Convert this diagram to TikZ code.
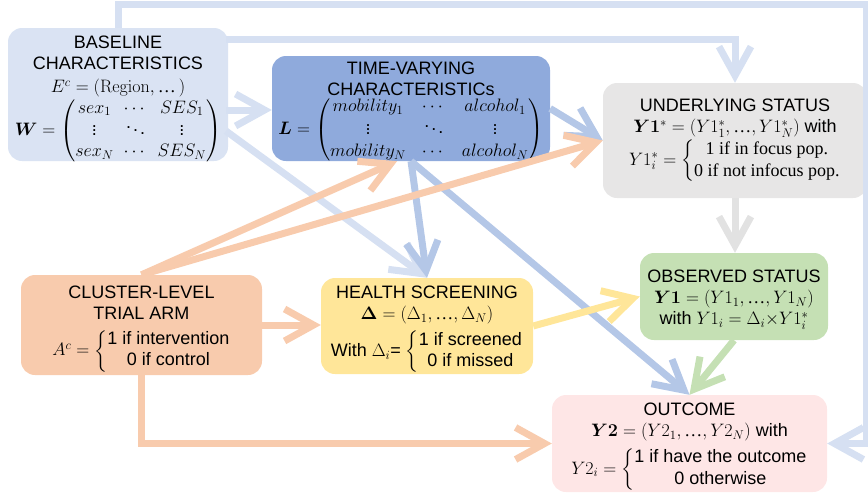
\RequirePackage{fix-cm}
\documentclass[tikz,border=0pt]{standalone}
\usepackage{amsmath}
\usepackage{bm}
\usepackage[no-math]{fontspec}
\setmainfont{Liberation Sans}
\newfontfamily\seriffont{Liberation Serif}
\usetikzlibrary{arrows.meta,calc}
\newcommand{\boxfont}{\fontsize{18}{21}\selectfont}
\newcommand{\cdts}{\text{\seriffont\textellipsis}}
\definecolor{cB}{HTML}{DAE3F3}
\definecolor{cBa}{HTML}{D6E0F2}
\definecolor{cL}{HTML}{8FAADC}
\definecolor{cLa}{HTML}{B4C7E7}
\definecolor{cU}{HTML}{E7E6E6}
\definecolor{cUa}{HTML}{E2E2E2}
\definecolor{cA}{HTML}{F8CBAD}
\definecolor{cH}{HTML}{FFE699}
\definecolor{cO}{HTML}{C5E0B4}
\definecolor{cY}{HTML}{FEE6E6}
\tikzset{
  box/.style={rounded corners=14pt, inner sep=0pt, draw=none},
  txt/.style={inner sep=0pt, align=center, font=\boxfont},
  arr/.style={line width=7pt, -{Straight Barb[length=29pt,width=32pt]}}
}
\begin{document}
\begin{tikzpicture}[x=1pt,y=-1pt]
\useasboundingbox (0,0) rectangle (868,496);
% boxes
\node[box, fill=cB, minimum width=220pt, minimum height=133pt] (B) at (118,94.5) {};
\node[box, fill=cL, minimum width=278pt, minimum height=105pt] (L) at (411,108.5) {};
\node[box, fill=cU, minimum width=264pt, minimum height=115pt] (U) at (735,140.5) {};
\node[box, fill=cA, minimum width=241pt, minimum height=100pt] (A) at (141.5,325) {};
\node[box, fill=cH, minimum width=212pt, minimum height=96pt] (H) at (427,326) {};
\node[box, fill=cO, minimum width=188pt, minimum height=87pt] (O) at (734,296.5) {};
\node[box, fill=cY, minimum width=275pt, minimum height=97pt] (Y) at (689.5,443.5) {};
% texts
\node[txt] (Bt) at (118,99.5)
 {BASELINE\\CHARACTERISTICS\\[2pt]
  $E^c = (\mathrm{Region}, \cdts\,)$\\
  $\bm{W} = \begin{pmatrix} sex_1 & \cdots & SES_1\\ \vdots & \ddots & \vdots\\ sex_N & \cdots & SES_N \end{pmatrix}$};
\node[txt] (Lt) at (411,112.5)
 {TIME-VARYING\\CHARACTERISTICs\\
  $\setlength{\arraycolsep}{8pt}\renewcommand{\arraystretch}{1.05}\bm{L} = \begin{pmatrix} mobility_1 & \cdots & alcohol_1\\ \vdots & \ddots & \vdots\\ mobility_N & \cdots & alcohol_N \end{pmatrix}$};
\node[txt] (Ut) at (735,141)
 {UNDERLYING STATUS\\
  $\bm{Y1}^{*} = (Y1_1^{*}, \cdts, Y1_N^{*})$ with\\
  $\renewcommand{\arraystretch}{1.05}Y1_i^{*} = \left\{\begin{array}{@{}c@{}}\text{\seriffont 1 if in focus pop.}\\ \text{\seriffont 0 if not infocus pop.}\end{array}\right.$};
\node[txt] (At) at (141.5,329)
 {CLUSTER-LEVEL\\TRIAL ARM\\[10pt]
  $A^c = \left\{\begin{array}{@{}c@{}}\text{1 if intervention}\\ \text{0 if control}\end{array}\right.$};
\node[txt] (Ht) at (427,329.5)
 {HEALTH SCREENING\\
  $\bm{\Delta} = (\Delta_1, \cdts, \Delta_N)$\\[6pt]
  With $\Delta_i$= $\left\{\begin{array}{@{}c@{}}\text{1 if screened}\\ \text{0 if missed}\end{array}\right.$};
\node[txt] (Ot) at (734,299.5)
 {OBSERVED STATUS\\
  $\bm{Y1} = (Y1_1, \cdts, Y1_N)$\\
  with $Y1_i = \Delta_i{\times}Y1_i^{*}$};
\node[txt] (Yt) at (689.5,447.5)
 {OUTCOME\\
  $\bm{Y2} = (Y2_1, \cdts, Y2_N)$ with\\[5pt]
  $\renewcommand{\arraystretch}{1.05}Y2_i = \left\{\begin{array}{@{}c@{}}\text{1 if have the outcome}\\ \text{0 otherwise}\end{array}\right.$};
% connector routing points
\coordinate (tl) at (118,4);
\coordinate (tr) at (866,4);
\coordinate (b2) at (226,39);
\coordinate (b3) at (226,110);
\coordinate (b4) at (226,131);
% baseline arrows
\draw[arr, draw=cBa] (B.north) -- (tl) -- (tr) |- (Y.east);
\draw[arr, draw=cBa] (b2) -| (U.north);
\draw[arr, draw=cBa] (b3) -- (b3 -| L.west);
\draw[arr, draw=cBa] (b4) -- (H.north);
% time-varying arrows
\draw[arr, draw=cLa] (L.east) -- (U.west);
\draw[arr, draw=cLa] (L.south) -- (H.north);
\draw[arr, draw=cLa] (L.south) -- (Y.north);
% trial arm arrows
\draw[arr, draw=cA] (A.north) -- ($(L.south)+(-14,0)$);
\draw[arr, draw=cA] (A.north) -- (U.west);
\draw[arr, draw=cA] (A.east) -- (H.west |- A.east);
\draw[arr, draw=cA] (A.south) |- (Y.west);
% others
\draw[arr, draw=cH] (H.east) -- (O.west);
\draw[arr, draw=cUa] (U.south) -- (U.south |- O.north);
\draw[arr, draw=cO] (O.south) -- (Y.north);
\end{tikzpicture}
\end{document}
